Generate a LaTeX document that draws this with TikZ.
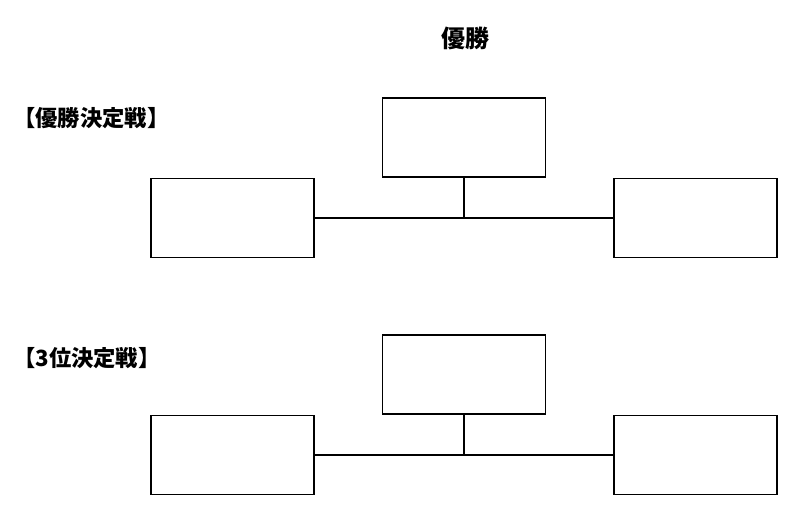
\documentclass[tikz,border=0pt]{standalone}
\usepackage{fontspec}
\newfontfamily\jpfont{Noto Sans CJK JP}
\usepackage{xcolor}
\usepackage{tikz}
\usetikzlibrary{positioning}

\begin{document}
\begin{tikzpicture}[
    x=1pt, y=-1pt,
    node distance=0pt and 67pt,
    box/.style={rectangle, draw, line width=1.6pt, minimum width=163pt, minimum height=79pt},
    heading/.style={font=\jpfont\bfseries\fontsize{24}{28}\selectfont, inner sep=0pt},
    round/.style={font=\jpfont\bfseries\fontsize{22.3}{26}\selectfont, inner sep=0pt, anchor=west},
    link/.style={line width=1.6pt}
]
\useasboundingbox (0,0) rectangle (800,518);

\node[heading] (title) at (465,38) {優勝};

\node[round] (finallabel) at (13,118) {【優勝決定戦】};
\node[box] (final) at (464,137.5) {};
\node[box, below left=of final] (finalL) {};
\node[box, below right=of final] (finalR) {};

\draw[link] (finalL.east) -- (finalR.west);
\draw[link] (final.south) -- (final.south |- finalL.east);

\node[round] (thirdlabel) at (13,358) {【3位決定戦】};
\node[box] (third) at (464,374.5) {};
\node[box, below left=of third] (thirdL) {};
\node[box, below right=of third] (thirdR) {};

\draw[link] (thirdL.east) -- (thirdR.west);
\draw[link] (third.south) -- (third.south |- thirdL.east);
\end{tikzpicture}
\end{document}
